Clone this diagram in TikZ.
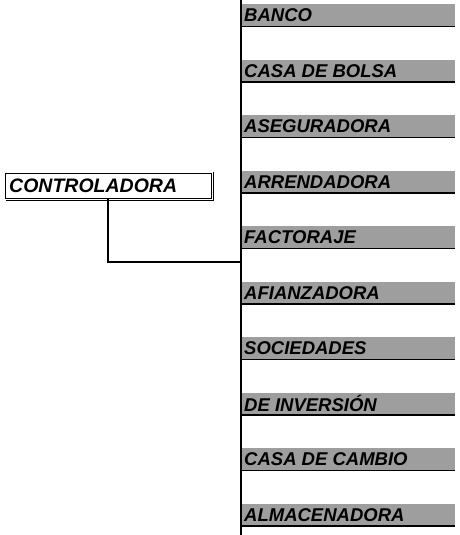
\documentclass[tikz,border=0pt]{standalone}
\usepackage{fontspec}
\setmainfont{Liberation Sans}
\begin{document}
\begin{tikzpicture}[x=1pt,y=-1pt,
  barbox/.style={fill=black!38, draw=none, minimum width=213pt, minimum height=22pt, inner sep=0pt, anchor=north west},
  bartext/.style={font=\fontsize{18.5}{18.5}\selectfont\bfseries\itshape, anchor=west, inner sep=0pt, text=black},
  ctrlbox/.style={draw=black, line width=1.3pt, fill=white, minimum width=206pt, minimum height=25pt, inner sep=0pt, anchor=north west},
  ctrltext/.style={font=\fontsize{19.5}{19.5}\selectfont\bfseries\itshape, anchor=west, inner sep=0pt},
  link/.style={line width=1.3pt, line cap=rect}]
\useasboundingbox (0,0) rectangle (459,535);
\fill[white] (0,0) rectangle (459,535);
\foreach \t [count=\i from 0] in {BANCO,CASA DE BOLSA,ASEGURADORA,ARRENDADORA,FACTORAJE,AFIANZADORA,SOCIEDADES,DE INVERSIÓN,CASA DE CAMBIO,ALMACENADORA}{
  \pgfmathsetmacro{\yy}{4+55.5*\i}
  \node[barbox] (b\i) at (242,\yy) {};
  \draw[line width=1.6pt] (b\i.south west) -- (b\i.south east);
  \node[bartext] (t\i) at ([xshift=2pt]b\i.west) {\t};
}
\coordinate (top) at (241,0);
\coordinate (bot) at (241,535);
\draw[line width=1.5pt] (top) -- (bot);
\node[ctrlbox] (c) at (5,173) {};
\draw[line width=1.2pt] ([xshift=1pt,yshift=-1.5pt]c.south west) -- ([xshift=1.5pt,yshift=-1.5pt]c.south east) -- ([xshift=1.5pt,yshift=1pt]c.north east);
\node[ctrltext] (ct) at ([xshift=4pt]c.west) {CONTROLADORA};
\coordinate (j) at (108,262);
\draw[link] (c.south -| j) -- (j) -- (j -| top);
\end{tikzpicture}
\end{document}
